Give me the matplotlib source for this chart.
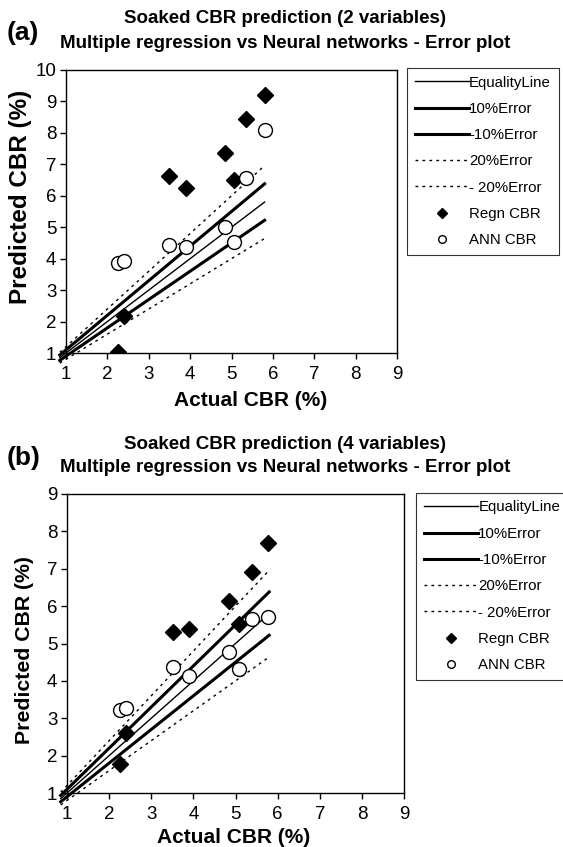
import matplotlib
matplotlib.use('Agg')
import matplotlib.pyplot as plt

plt.rcParams['font.family'] = ['Liberation Sans', 'DejaVu Sans']

# valores (a) - 2 variaveis
actual_a = [2.25, 2.4, 3.5, 3.9, 4.85, 5.05, 5.35, 5.8]
regn_a = [1.02, 2.18, 6.63, 6.26, 7.36, 6.49, 8.44, 9.19]
ann_a = [3.87, 3.93, 4.42, 4.37, 5.0, 4.52, 6.57, 8.09]

# valores (b) - 4 variaveis
actual_b = [2.26, 2.4, 3.52, 3.9, 4.84, 5.08, 5.39, 5.78]
regn_b = [1.77, 2.6, 5.31, 5.39, 6.15, 5.53, 6.9, 7.7]
ann_b = [3.22, 3.27, 4.36, 4.14, 4.77, 4.32, 5.66, 5.72]

# linhas de erro
linha_x = [0.85, 2.25, 2.4, 3.5, 3.9, 4.85, 5.05, 5.35, 5.8]
fatores = [1.0, 1.1, 0.9, 1.2, 0.8]
nomes = ['EqualityLine', '10%Error', '-10%Error', '20%Error', '- 20%Error']
larguras = [1.0, 2.2, 2.2, 1.0, 1.0]
estilos = ['-', '-', '-', (0, (2, 3)), (0, (2, 3))]

fig = plt.figure(figsize=(5.63, 8.47), dpi=100)
W, H = 563.0, 847.0


def painel(rect, actual, regn, ann, ymax, letra, titulo, ytitle, leg_xy, xlab_xy,
           ylab_xy, ylab_fs, espaco):
    ax = fig.add_axes(rect)
    for f, nome, lw, ls in zip(fatores, nomes, larguras, estilos):
        ax.plot(linha_x, [x * f for x in linha_x], color='black', lw=lw, ls=ls,
                label=nome, clip_on=False, zorder=2)
    ax.plot(actual, regn, 'D', color='black', ms=8.5, label='Regn CBR', zorder=3)
    ax.plot(actual, ann, 'o', mfc='white', mec='black', mew=1.0, ms=10,
            label='ANN CBR', zorder=3)
    ax.set_xlim(1, 9)
    ax.set_ylim(1, ymax)
    ax.set_xticks(range(1, 10))
    ax.set_yticks(range(1, ymax + 1))
    ax.tick_params(labelsize=13.5, length=4, width=1)
    ax.tick_params(axis='x', pad=5)
    ax.tick_params(axis='y', pad=3)
    for s in ax.spines.values():
        s.set_linewidth(1.0)
    fig.text(ylab_xy[0] / W, 1 - ylab_xy[1] / H, 'Predicted CBR (%)', fontsize=ylab_fs,
             fontweight='bold', rotation=90, ha='center', va='center')
    fig.text(xlab_xy[0] / W, 1 - xlab_xy[1] / H, 'Actual CBR (%)', fontsize=15,
             fontweight='bold', ha='center', va='center')
    fig.text(285 / W, 1 - ytitle / H, titulo, fontsize=13.5, fontweight='bold',
             ha='center', va='center', linespacing=espaco)
    fig.text(7 / W, 1 - (ytitle + 2) / H, letra, fontsize=19, fontweight='bold',
             ha='left', va='center')
    leg = fig.legend(handles=ax.get_legend_handles_labels()[0], loc='upper left',
                     bbox_to_anchor=leg_xy, fontsize=10.8, frameon=True, fancybox=False,
                     edgecolor='black', handlelength=3.6, handletextpad=0.05,
                     labelspacing=0.82, borderpad=0.5, borderaxespad=0,
                     markerscale=0.55)
    leg.get_frame().set_linewidth(0.8)
    return ax


painel([66 / W, 1 - 353 / H, 331 / W, 283 / H], actual_a, regn_a, ann_a, 10, '(a)',
       'Soaked CBR prediction (2 variables)\nMultiple regression vs Neural networks - Error plot',
       31, (407 / W, 1 - 68 / H), (251, 400), (21, 197), 17.5, 1.6)
painel([67 / W, 1 - 793 / H, 337 / W, 299 / H], actual_b, regn_b, ann_b, 9, '(b)',
       'Soaked CBR prediction (4 variables)\nMultiple regression vs Neural networks - Error plot',
       456, (416 / W, 1 - 493 / H), (234, 837), (25, 650), 15.3, 1.45)

fig.savefig('out.png', dpi=100)
